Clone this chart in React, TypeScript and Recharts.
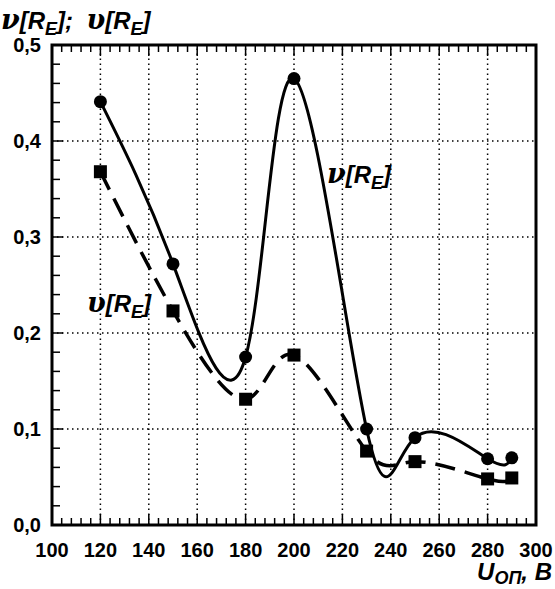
import { LineChart, Line, XAxis, YAxis, ReferenceLine, ReferenceArea } from "recharts";

// U_ОП, В and the two measured quantities
const voltage = [120, 150, 180, 200, 230, 250, 280, 290];
const nuValues = [0.441, 0.272, 0.175, 0.465, 0.1, 0.091, 0.069, 0.07];
const upsValues = [0.368, 0.223, 0.131, 0.177, 0.077, 0.066, 0.048, 0.049];

const xMajor = [100, 120, 140, 160, 180, 200, 220, 240, 260, 280, 300];
const yMajor = [0, 0.1, 0.2, 0.3, 0.4, 0.5];

const subdivide = (major: number[], parts: number) =>
  major.flatMap((v, i) =>
    i === major.length - 1
      ? [v]
      : Array.from({ length: parts }, (_, k) => v + ((major[i + 1] - v) * k) / parts)
  );

const xTicks = subdivide(xMajor, 5);
const yTicks = subdivide(yMajor, 5);

const data = voltage.map((u, i) => ({ u, nu: nuValues[i], ups: upsValues[i] }));

const isMajor = (v: number, major: number[]) => major.some((m) => Math.abs(m - v) < 1e-6);

const font = "'Liberation Sans', Arial, sans-serif";
const greek = "'DejaVu Serif', serif";

const BottomTick = ({ x, y, payload }: any) => {
  const major = isMajor(payload.value, xMajor);
  return (
    <g>
      <line x1={x} y1={y} x2={x} y2={y - (major ? 11 : 7)} stroke="#000" strokeWidth={1.5} />
      {major && (
        <text x={x} y={y + 32} textAnchor="middle" fontFamily={font} fontWeight="bold" fontSize={20} fill="#000">
          {payload.value}
        </text>
      )}
    </g>
  );
};

const TopTick = ({ x, y, payload }: any) => {
  const major = isMajor(payload.value, xMajor);
  return <line x1={x} y1={y} x2={x} y2={y + (major ? 11 : 7)} stroke="#000" strokeWidth={1.5} />;
};

const LeftTick = ({ x, y, payload }: any) => {
  const major = isMajor(payload.value, yMajor);
  return (
    <g>
      <line x1={x} y1={y} x2={x + (major ? 11 : 8)} y2={y} stroke="#000" strokeWidth={1.5} />
      {major && (
        <text x={x - 11} y={y + 7} textAnchor="end" fontFamily={font} fontWeight="bold" fontSize={20} fill="#000">
          {payload.value.toFixed(1).replace(".", ",")}
        </text>
      )}
    </g>
  );
};

const RightTick = ({ x, y, payload }: any) => {
  const major = isMajor(payload.value, yMajor);
  return <line x1={x} y1={y} x2={x - (major ? 11 : 8)} y2={y} stroke="#000" strokeWidth={1.5} />;
};

const SquareDot = ({ cx, cy, index }: any) => (
  <rect key={`sq-${index}`} x={cx - 6.5} y={cy - 6.5} width={13} height={13} fill="#000" />
);

const Sub = ({ children, shift = 6 }: { children: string; shift?: number }) => (
  <span style={{ fontSize: 18, position: "relative", top: shift }}>{children}</span>
);

const Gr = ({ children }: { children: string }) => (
  <span style={{ fontFamily: greek, fontSize: 27 }}>{children}</span>
);

const labelStyle = {
  position: "absolute" as const,
  fontFamily: font,
  fontWeight: "bold" as const,
  fontStyle: "italic" as const,
  fontSize: 24,
  color: "#000",
  whiteSpace: "nowrap" as const,
  lineHeight: 1,
};

const RE = () => (
  <>
    [R<Sub>E</Sub>]
  </>
);

export default function App() {
  return (
    <div style={{ position: "absolute", left: 0, top: 0, width: 555, height: 589, background: "#fff" }}>
      <LineChart width={555} height={589} data={data} margin={{ top: 44, right: 18, bottom: 63, left: 51 }}>
        <XAxis xAxisId="b" dataKey="u" type="number" domain={[100, 300]} ticks={xTicks} interval={0}
          height={1} tickSize={0} tickMargin={0} axisLine={false} tickLine={false} tick={<BottomTick />} />
        <XAxis xAxisId="t" orientation="top" dataKey="u" type="number" domain={[100, 300]} ticks={xTicks} interval={0}
          height={1} tickSize={0} tickMargin={0} axisLine={false} tickLine={false} tick={<TopTick />} />
        <YAxis yAxisId="l" type="number" domain={[0, 0.5]} ticks={yTicks} interval={0}
          width={1} tickSize={0} tickMargin={0} axisLine={false} tickLine={false} tick={<LeftTick />} />
        <YAxis yAxisId="r" orientation="right" type="number" domain={[0, 0.5]} ticks={yTicks} interval={0}
          width={1} tickSize={0} tickMargin={0} axisLine={false} tickLine={false} tick={<RightTick />} />
        {xMajor.slice(1, -1).map((v) => (
          <ReferenceLine key={`gx${v}`} x={v} xAxisId="b" yAxisId="l" stroke="#000" strokeWidth={1.5} strokeDasharray="1.5 3.5" />
        ))}
        {yMajor.slice(1, -1).map((v) => (
          <ReferenceLine key={`gy${v}`} y={v} xAxisId="b" yAxisId="l" stroke="#000" strokeWidth={1.5} strokeDasharray="1.5 3.5" />
        ))}
        <ReferenceArea xAxisId="b" yAxisId="l" x1={100} x2={300} y1={0} y2={0.5}
          fill="none" fillOpacity={0} stroke="#000" strokeWidth={3} />
        <Line xAxisId="b" yAxisId="l" dataKey="ups" type="natural" stroke="#000" strokeWidth={3.5}
          strokeDasharray="20 10" dot={<SquareDot />} activeDot={false} isAnimationActive={false} />
        <Line xAxisId="b" yAxisId="l" dataKey="nu" type="natural" stroke="#000" strokeWidth={3}
          dot={{ r: 6.5, fill: "#000", stroke: "none" }} activeDot={false} isAnimationActive={false} />
      </LineChart>
      <div style={{ ...labelStyle, left: 1, top: 6 }}>
        <Gr>ν</Gr>
        <RE />;&nbsp; <Gr>υ</Gr>
        <RE />
      </div>
      <div style={{ ...labelStyle, left: 327, top: 160 }}>
        <Gr>ν</Gr>
        <RE />
      </div>
      <div style={{ ...labelStyle, left: 87, top: 289 }}>
        <Gr>υ</Gr>
        <RE />
      </div>
      <div style={{ ...labelStyle, right: 3, top: 563, lineHeight: "18px" }}>
        U<Sub shift={4}>ОП</Sub>, В
      </div>
    </div>
  );
}
